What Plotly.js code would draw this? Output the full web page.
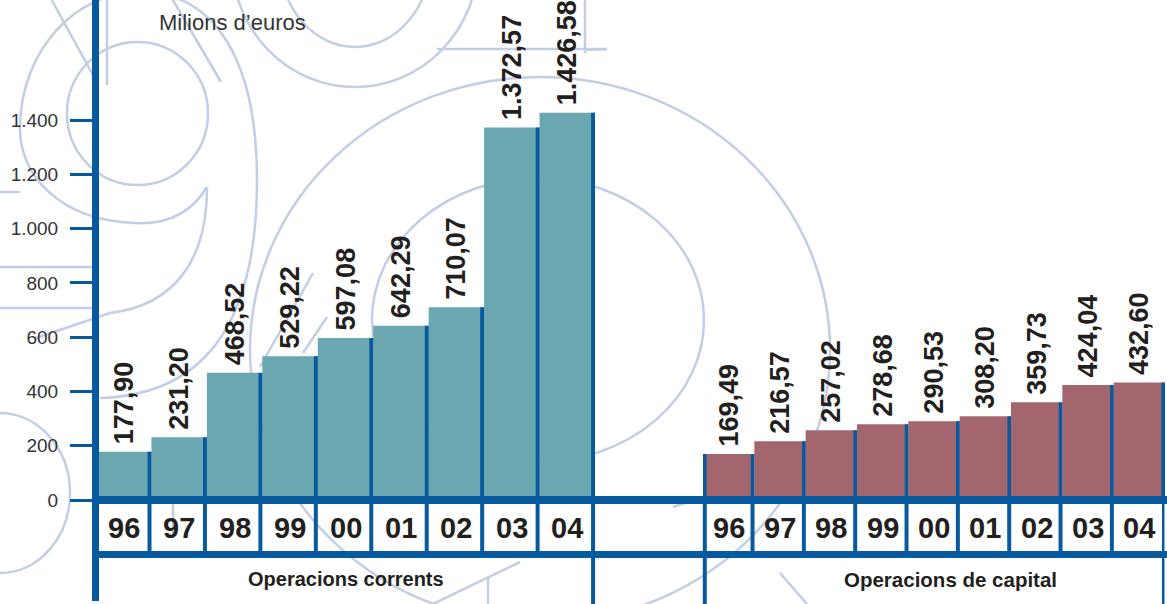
<!DOCTYPE html>
<html>
<head>
<meta charset="utf-8">
<script src="https://cdn.plot.ly/plotly-3.0.1.min.js"></script>
<style>
html,body{margin:0;padding:0;background:#ffffff;}
#chart{width:1167px;height:604px;}
</style>
</head>
<body>
<div id="chart"></div>
<script>
// ---------------- DATA ----------------
const years = ['96','97','98','99','00','01','02','03','04'];
const corrents = [177.90, 231.20, 468.52, 529.22, 597.08, 642.29, 710.07, 1372.57, 1426.58];
const capital  = [169.49, 216.57, 257.02, 278.68, 290.53, 308.20, 359.73, 424.04, 432.60];
const groupLabels = ['Operacions corrents', 'Operacions de capital'];
const yTickVals = [0, 200, 400, 600, 800, 1000, 1200, 1400];
const yTickText = ['0', '200', '400', '600', '800', '1.000', '1.200', '1.400'];
const unitLabel = 'Milions d\u2019euros';

// ---------------- STYLE ----------------
const W = 1167, H = 604;
const M = {l: 96, r: 2, t: 0, b: 104};
const PW = W - M.l - M.r, PH = H - M.t - M.b;
const BLUE = '#085a9f', TEAL = '#6aa7b0', MAROON = '#a3666f', DECO = '#c3cde6', INK = '#231f20';
const SANS = '"Liberation Sans", Arial, Helvetica, sans-serif';
const X = p => (p - M.l) / PW;        // pixel -> paper x
const Y = p => (M.t + PH - p) / PH;   // pixel -> paper y
const tealDom = [X(96), X(595)];
const capDom = [X(703), X(1165)];
const yMax = PH / (380 / 1400);

function fmt(v) {
  const parts = v.toFixed(2).split('.');
  return parts[0].replace(/\B(?=(\d{3})+(?!\d))/g, '.') + ',' + parts[1];
}
const idx = years.map((_, i) => i);

// ---------------- TRACES ----------------
const labelFont = {family: SANS, size: 27, weight: 700, color: INK};
const traces = [
  {type: 'bar', x: idx, y: corrents, xaxis: 'x', yaxis: 'y', width: 1,
   marker: {color: TEAL}, text: corrents.map(v => '\u2006' + fmt(v)),
   textposition: 'outside', textangle: -90, textfont: labelFont,
   cliponaxis: false, constraintext: 'none', hoverinfo: 'skip'},
  {type: 'bar', x: idx, y: corrents, xaxis: 'x', yaxis: 'y', width: 0.07, offset: 0.43,
   marker: {color: BLUE}, hoverinfo: 'skip'},
  {type: 'bar', x: idx, y: capital, xaxis: 'x2', yaxis: 'y', width: 1,
   marker: {color: MAROON}, text: capital.map(v => '\u2006' + fmt(v)),
   textposition: 'outside', textangle: -90, textfont: labelFont,
   cliponaxis: false, constraintext: 'none', hoverinfo: 'skip'},
  {type: 'bar', x: idx, y: capital, xaxis: 'x2', yaxis: 'y', width: 0.07, offset: 0.43,
   marker: {color: BLUE}, hoverinfo: 'skip'},
  {type: 'bar', x: [idx[0]], y: [capital[0]], xaxis: 'x2', yaxis: 'y', width: 0.07, offset: -0.5,
   marker: {color: BLUE}, hoverinfo: 'skip'}
];

// ---------------- SHAPES ----------------
const shapes = [];
function pline(x0, y0, x1, y1, w, color, layer) {
  shapes.push({type: 'line', xref: 'paper', yref: 'paper', x0: X(x0), y0: Y(y0), x1: X(x1), y1: Y(y1),
    line: {color: color || BLUE, width: w}, layer: layer || 'above'});
}
// decorative background numerals (light outlines)
const decoEllipses = [
  [67, 42, 208, 185], [232, -167, 478, 87], [280, -127, 430, 47],
  [250, 77, 830, 623], [372, 178, 704, 462], [-70, 413, 70, 573]
];
decoEllipses.forEach(e => shapes.push({type: 'circle', xref: 'paper', yref: 'paper',
  x0: X(e[0]), x1: X(e[2]), y0: Y(e[3]), y1: Y(e[1]), line: {color: DECO, width: 2.5}, layer: 'below'}));
function decoPath(cmds) {
  let d = '';
  cmds.forEach(c => {
    d += c[0];
    const pts = [];
    for (let k = 1; k < c.length; k += 2) pts.push(X(c[k]).toFixed(5) + ',' + Y(c[k + 1]).toFixed(5));
    d += pts.join(' ') + ' ';
  });
  shapes.push({type: 'path', xref: 'paper', yref: 'paper', path: d.trim(),
    line: {color: DECO, width: 2.5}, layer: 'below'});
}
decoPath([['M', 207, 187], ['C', 190, 215, 165, 225, 134, 223], ['C', 60, 220, 18, 175, 20, 125],
  ['C', 22, 50, 75, -8, 140, -8], ['C', 215, -8, 257, 60, 257, 180], ['C', 257, 330, 200, 395, 100, 398]]);
decoPath([['M', 207, 187], ['C', 207, 260, 175, 305, 110, 313], ['L', 36, 338]]);
decoPath([['M', 107, -5], ['L', 107, 85, 152, 85, 152, -5]]);
decoPath([['M', 49, -5], ['L', 94, 77]]);
decoPath([['M', 170, -5], ['L', 221, 82, 98, 82]]);
decoPath([['M', 607, 49], ['L', 437, 49, 437, 6, 661, 6, 661, 33, 597, 178]]);
decoPath([['M', 587, 50], ['L', 607, 49, 575, 113]]);
decoPath([['M', 585, -2], ['L', 585, 53, 632, 53, 632, -2]]);
decoPath([['M', 260, 367], ['L', 313, 273, 370, 273, 370, 345]]);
decoPath([['M', 303, 353], ['L', 327, 317, 327, 345]]);
decoPath([['M', 0, 192], ['L', 20, 192, 20, 223, 0, 223]]);
decoPath([['M', 0, 267], ['L', 92, 267]]);
decoPath([['M', 0, 308], ['L', 92, 308]]);
decoPath([['M', 173, 503], ['L', 173, 535, 325, 535, 325, 550, 400, 510]]);
decoPath([['M', 433, 604], ['L', 520, 562, 640, 604]]);
decoPath([['M', 488, 604], ['L', 488, 577, 543, 577, 543, 604]]);
decoPath([['M', 673, 507], ['L', 703, 497]]);
decoPath([['M', 780, 573], ['L', 807, 604]]);

// table frame under the bars
pline(92, 500, 1167, 500, 8);
pline(92, 554.5, 1167, 554.5, 7);
pline(95.5, -4, 95.5, 601, 7);
const tStep = (595 - 96) / years.length, cStep = (1165 - 703) / years.length;
for (let i = 0; i < years.length; i++) {
  const xt = 96 + (i + 1) * tStep - 1.95;
  pline(xt, 500, xt, i === years.length - 1 ? 604 : 554.5, 4);
  const xc = 703 + (i + 1) * cStep - 1.8;
  pline(xc, 500, xc, i === years.length - 1 ? 604 : 554.5, i === years.length - 1 ? 2.5 : 4);
}
pline(704.8, 500, 704.8, 604, 4);

// ---------------- ANNOTATIONS ----------------
const annotations = [];
years.forEach((yr, i) => {
  ['x', 'x2'].forEach(ax => annotations.push({xref: ax, yref: 'paper', x: idx[i], y: Y(528),
    text: yr, showarrow: false, xanchor: 'center', yanchor: 'middle',
    font: {family: SANS, size: 29, weight: 700, color: INK}}));
});
annotations.push({xref: 'paper', yref: 'paper', x: X(345.5), y: Y(579), text: groupLabels[0],
  showarrow: false, xanchor: 'center', yanchor: 'middle',
  font: {family: SANS, size: 20, weight: 700, color: INK}});
annotations.push({xref: 'paper', yref: 'paper', x: X(950), y: Y(579), text: groupLabels[1],
  showarrow: false, xanchor: 'center', yanchor: 'middle',
  font: {family: SANS, size: 20.5, weight: 700, color: INK}});
annotations.push({xref: 'paper', yref: 'paper', x: X(157), y: Y(22), text: unitLabel,
  showarrow: false, xanchor: 'left', yanchor: 'middle',
  font: {family: SANS, size: 22, color: '#333333'}});

// ---------------- LAYOUT ----------------
const hiddenX = {range: [-0.5, 8.5], visible: false, fixedrange: true};
const layout = {
  width: W, height: H, margin: M,
  paper_bgcolor: 'rgba(0,0,0,0)', plot_bgcolor: 'rgba(0,0,0,0)',
  showlegend: false, barmode: 'overlay',
  xaxis: Object.assign({domain: tealDom, anchor: 'y'}, hiddenX),
  xaxis2: Object.assign({domain: capDom, anchor: 'y'}, hiddenX),
  yaxis: {range: [0, yMax], domain: [0, 1], showgrid: false, zeroline: false, showline: false,
    ticks: 'outside', ticklen: 25, tickwidth: 3, tickcolor: BLUE,
    tickvals: yTickVals, ticktext: yTickText, ticklabelstandoff: 8,
    tickfont: {family: SANS, size: 19, color: '#333333'}, fixedrange: true},
  shapes: shapes, annotations: annotations
};
Plotly.newPlot('chart', traces, layout, {staticPlot: true, displayModeBar: false});
</script>
</body>
</html>
